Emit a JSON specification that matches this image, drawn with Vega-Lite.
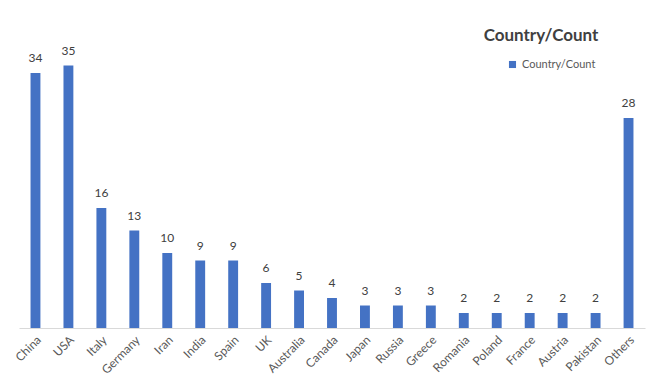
{
  "$schema": "https://vega.github.io/schema/vega-lite/v6.json",
  "width": 626,
  "height": 300,
  "autosize": {"type": "none"},
  "padding": {"left": 19, "top": 28, "right": 14, "bottom": 63},
  "background": "white",
  "config": {"font": "Lato", "view": {"stroke": null}},
  "title": {
    "text": "Country/Count",
    "fontSize": 17,
    "fontWeight": "bold",
    "color": "#404040",
    "anchor": "middle",
    "dx": 209,
    "dy": 21
  },
  "data": {
    "values": [
      {"country": "China", "count": 34},
      {"country": "USA", "count": 35},
      {"country": "Italy", "count": 16},
      {"country": "Germany", "count": 13},
      {"country": "Iran", "count": 10},
      {"country": "India", "count": 9},
      {"country": "Spain", "count": 9},
      {"country": "UK", "count": 6},
      {"country": "Australia", "count": 5},
      {"country": "Canada", "count": 4},
      {"country": "Japan", "count": 3},
      {"country": "Russia", "count": 3},
      {"country": "Greece", "count": 3},
      {"country": "Romania", "count": 2},
      {"country": "Poland", "count": 2},
      {"country": "France", "count": 2},
      {"country": "Austria", "count": 2},
      {"country": "Pakistan", "count": 2},
      {"country": "Others", "count": 28}
    ]
  },
  "encoding": {
    "x": {
      "field": "country",
      "type": "nominal",
      "sort": null,
      "scale": {"paddingInner": 0.7, "paddingOuter": 0.35},
      "axis": {
        "title": null,
        "labelAngle": -45,
        "labelFontSize": 12,
        "labelColor": "#595959",
        "ticks": false,
        "domainColor": "#d9d9d9",
        "labelPadding": 6
      }
    },
    "y": {
      "field": "count",
      "type": "quantitative",
      "scale": {"domain": [0, 40]},
      "axis": null
    }
  },
  "layer": [
    {
      "mark": {"type": "bar", "color": "#4472C4"},
      "encoding": {
        "color": {
          "datum": "Country/Count",
          "scale": {"range": ["#4472C4"]},
          "legend": {
            "title": null,
            "orient": "none",
            "legendX": 488,
            "legendY": 31,
            "symbolType": "square",
            "symbolSize": 50,
            "labelFontSize": 11,
            "labelColor": "#595959"
          }
        }
      }
    },
    {
      "mark": {"type": "text", "baseline": "bottom", "dy": -8, "fontSize": 12, "color": "#404040"},
      "encoding": {"text": {"field": "count", "type": "quantitative"}}
    }
  ]
}
